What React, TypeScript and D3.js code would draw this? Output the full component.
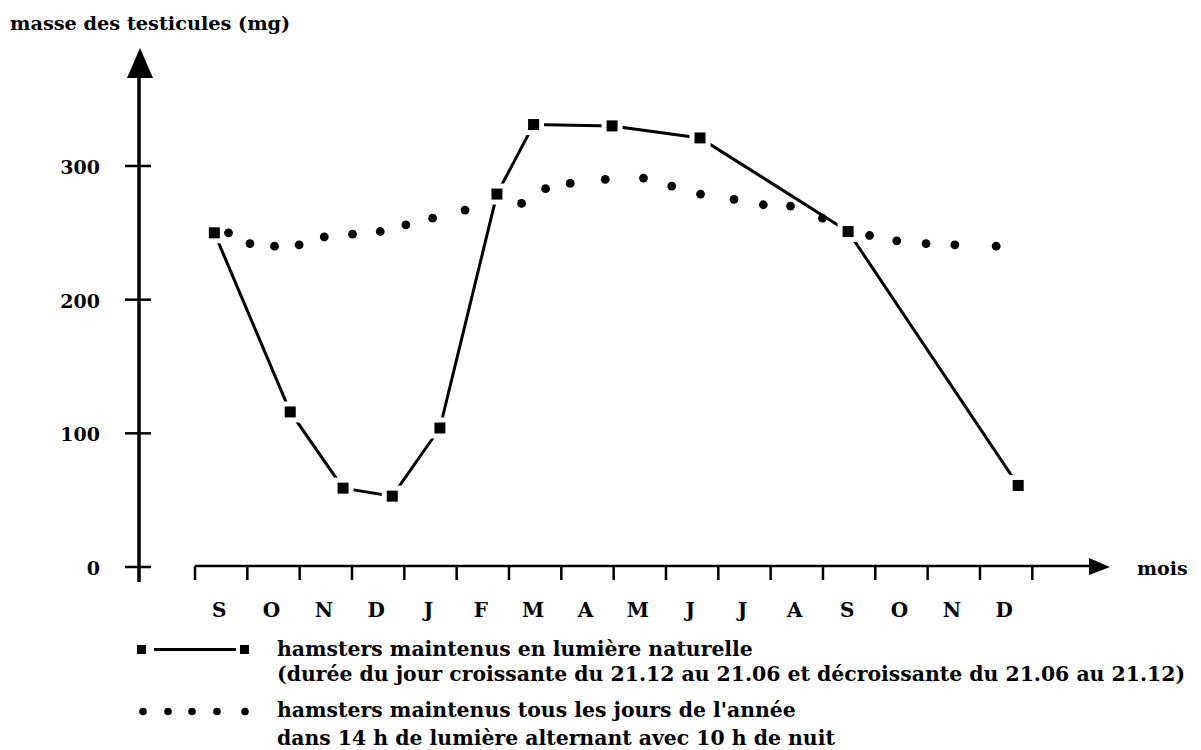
import React from "react";
import * as d3 from "d3";

// ---- data ----
const monthLabels = ["S", "O", "N", "D", "J", "F", "M", "A", "M", "J", "J", "A", "S", "O", "N", "D"];
const yTickValues = [0, 100, 200, 300];

// hamsters in natural light (time in months from start of September)
const naturalTime = [0.37, 1.82, 2.83, 3.77, 4.68, 5.77, 6.47, 7.97, 9.65, 12.48, 15.73];
const naturalMass = [250, 116, 59, 53, 104, 279, 331, 330, 321, 251, 61];

// hamsters kept in 14h light / 10h night
const constantTime = [0.64, 1.05, 1.52, 1.99, 2.47, 3.01, 3.54, 4.03, 4.54, 5.16, 6.24, 6.7, 7.17, 7.84, 8.57, 9.11, 9.66, 10.3, 10.86, 11.38, 11.99, 12.89, 13.41, 13.97, 14.52, 15.31];
const constantMass = [250, 242, 240, 241, 247, 249, 251, 256, 261, 267, 272, 283, 287, 290, 291, 285, 279, 275, 271, 270, 261, 248, 244, 242, 241, 240];

const titleText = "masse des testicules (mg)";
const xAxisText = "mois";
const legend1a = "hamsters maintenus en lumière naturelle";
const legend1b = "(durée du jour croissante du 21.12 au 21.06 et décroissante du 21.06 au 21.12)";
const legend2a = "hamsters maintenus tous les jours de l'année";
const legend2b = "dans 14 h de lumière alternant avec 10 h de nuit";

const FONT = "'DejaVu Serif', serif";

export default function App() {
  const W = 1201;
  const H = 750;
  const x = d3.scaleLinear().domain([0, 16]).range([195, 1032.3]);
  const y = d3.scaleLinear().domain([0, 300]).range([567, 166]);
  const yAxisX = 139;
  const xAxisY = 566;

  const natural = naturalTime.map((t, i) => ({ t, v: naturalMass[i] }));
  const constant = constantTime.map((t, i) => ({ t, v: constantMass[i] }));
  const line = d3
    .line<{ t: number; v: number }>()
    .x((d) => x(d.t))
    .y((d) => y(d.v));

  const xTicks = d3.range(0, 17);
  const sq = 11;
  const halo = 21;
  const legendSize = 20.4;

  return (
    <svg
      width={W}
      height={H}
      style={{ position: "absolute", left: 0, top: 0, background: "#fff" }}
      fontFamily={FONT}
      fontWeight="bold"
    >
      <rect x={0} y={0} width={W} height={H} fill="#fff" />
      {/* title */}
      <text x={10} y={30} fontSize={19.3} fill="#000">
        {titleText}
      </text>

      {/* y axis */}
      <line x1={yAxisX} x2={yAxisX} y1={76} y2={582} stroke="#000" strokeWidth={3.5} />
      <path d={`M${yAxisX + 1},48 L${yAxisX - 12},78 L${yAxisX + 14},78 Z`} fill="#000" />
      {yTickValues.map((v) => (
        <g key={v}>
          <line x1={yAxisX - 14} x2={yAxisX + 12} y1={y(v)} y2={y(v)} stroke="#000" strokeWidth={2.5} />
          <text x={100} y={y(v) + 8} fontSize={19} textAnchor="end" fill="#000">
            {v}
          </text>
        </g>
      ))}

      {/* x axis */}
      <line x1={x(0)} x2={1095} y1={xAxisY} y2={xAxisY} stroke="#000" strokeWidth={2.5} />
      <path d={`M1089,${xAxisY - 8} L1110,${xAxisY + 1} L1089,${xAxisY + 9} Z`} fill="#000" />
      {xTicks.map((i) => (
        <line key={i} x1={x(i)} x2={x(i)} y1={xAxisY} y2={xAxisY + 14} stroke="#000" strokeWidth={2.5} />
      ))}
      {monthLabels.map((m, i) => (
        <text key={i} x={x(i + 0.5) - 2} y={617} fontSize={20} textAnchor="middle" fill="#000">
          {m}
        </text>
      ))}
      <text x={1137} y={575} fontSize={19} fill="#000">
        {xAxisText}
      </text>

      {/* natural light series */}
      <path d={line(natural) || ""} fill="none" stroke="#000" strokeWidth={3} />
      {natural.map((d, i) => (
        <rect key={"h" + i} x={x(d.t) - halo / 2} y={y(d.v) - halo / 2} width={halo} height={halo} fill="#fff" />
      ))}
      {/* constant light series */}
      {constant.map((d, i) => (
        <circle key={"c" + i} cx={x(d.t)} cy={y(d.v)} r={4.4} fill="#000" />
      ))}
      {natural.map((d, i) => (
        <rect key={"s" + i} x={x(d.t) - sq / 2} y={y(d.v) - sq / 2} width={sq} height={sq} fill="#000" />
      ))}

      {/* legend */}
      <rect x={137} y={645} width={9} height={9} fill="#000" />
      <line x1={154} x2={236} y1={649.5} y2={649.5} stroke="#000" strokeWidth={3} />
      <rect x={240} y={645} width={9} height={9} fill="#000" />
      <text x={277} y={656} fontSize={legendSize} fill="#000">
        {legend1a}
      </text>
      <text x={277} y={681} fontSize={legendSize} fill="#000">
        {legend1b}
      </text>
      {[143, 168, 192, 217, 245].map((cx, i) => (
        <circle key={"l" + i} cx={cx} cy={711.5} r={3.8} fill="#000" />
      ))}
      <text x={277} y={717} fontSize={legendSize} fill="#000">
        {legend2a}
      </text>
      <text x={277} y={745} fontSize={legendSize} fill="#000">
        {legend2b}
      </text>
    </svg>
  );
}
